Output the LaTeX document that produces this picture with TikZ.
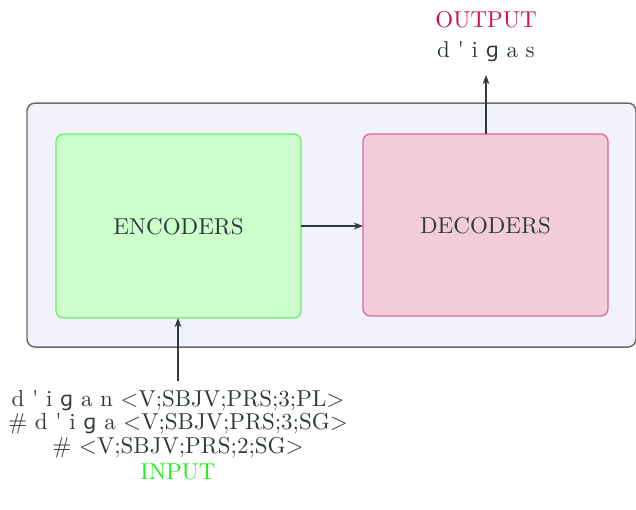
\documentclass[tikz,border=0pt]{standalone}
\usepackage{fontspec}
\usetikzlibrary{arrows.meta}
\newfontfamily\ipafont{DejaVu Sans}
\definecolor{inktext}{HTML}{2F3B3B}
\definecolor{outerfill}{HTML}{F2F2FD}
\definecolor{outerline}{HTML}{6A6A6A}
\definecolor{encfill}{HTML}{CCFFCC}
\definecolor{encline}{HTML}{66EE66}
\definecolor{decfill}{HTML}{F2CCDA}
\definecolor{decline}{HTML}{DD6699}
\definecolor{outred}{HTML}{CC1155}
\definecolor{ingreen}{HTML}{22EE22}
\newcommand{\ipag}{{\ipafont\small ɡ}}
\newcommand{\apos}{\textquotesingle}
\tikzset{
  px/.style={x=0.4348pt, y=-0.4348pt},
  panel/.style={draw, line width=0.55pt, rounded corners=3.2pt},
  label/.style={text=inktext, inner sep=0pt, font=\normalsize},
  flow/.style={-{Stealth[length=4pt,width=3pt]}, line width=0.5pt, draw=inktext},
}
\begin{document}
\begin{tikzpicture}[px]
  \useasboundingbox (0,0) rectangle (636,509);
  % outer frame holding both stages
  \draw[panel, fill=outerfill, draw=outerline, line width=0.65pt, rounded corners=3.5pt] (27,103) rectangle (636,347);
  % encoder and decoder blocks
  \draw[panel, fill=encfill, draw=encline] (56,134) rectangle (301,318);
  \draw[panel, fill=decfill, draw=decline] (363,134) rectangle (608,316);
  \node[label] (enc) at (178.5,227) {ENCODERS};
  \node[label] (dec) at (485.5,226) {DECODERS};
  \coordinate (encE) at (301,226);
  \coordinate (decW) at (363,226);
  \coordinate (encS) at (178,318);
  \coordinate (decN) at (486,134);
  % output side
  \node[label, text=outred] (outlbl) at (486,20) {OUTPUT};
  \node[label] (outw) at (486,52) {d \apos{} i \ipag{} a s};
  \coordinate (outtip) at (486,75);
  % input side
  \node[label] (in1) at (178,401) {d \apos{} i \ipag{} a n <V;SBJV;PRS;3;PL>};
  \node[label] (in2) at (178,424) {\# d \apos{} i \ipag{} a <V;SBJV;PRS;3;SG>};
  \node[label] (in3) at (178,448) {\# <V;SBJV;PRS;2;SG>};
  \node[label, text=ingreen] (inlbl) at (178,472) {INPUT};
  \coordinate (inbase) at (178,381);
  % connectors
  \draw[flow] (encE) -- (decW);
  \draw[flow] (decN) -- (outtip);
  \draw[flow] (inbase) -- (encS);
\end{tikzpicture}
\end{document}
